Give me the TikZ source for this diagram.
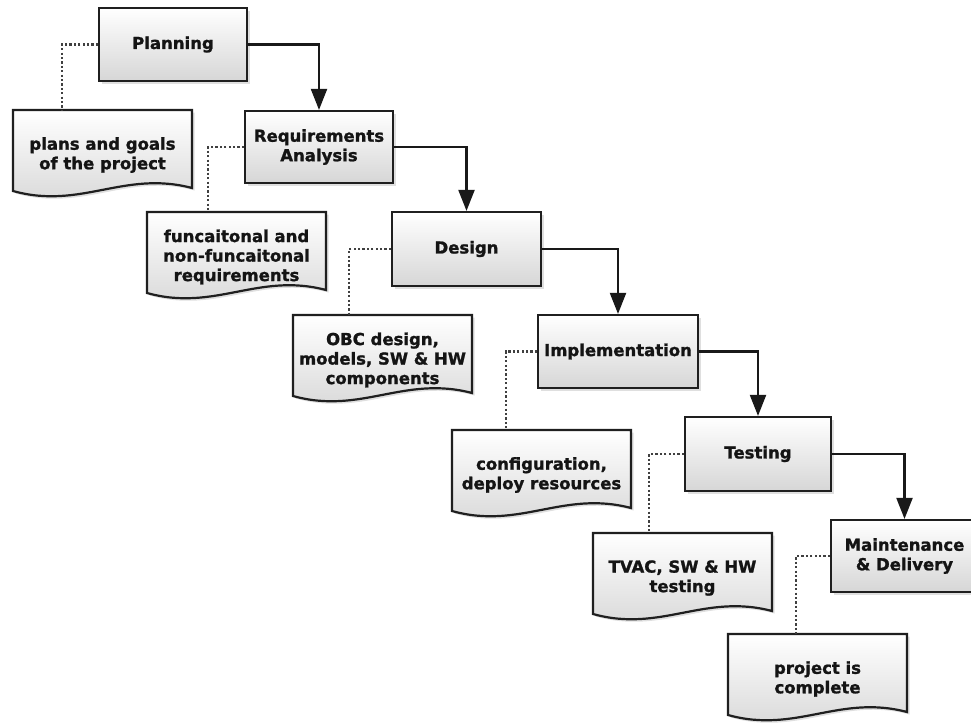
\documentclass[tikz,border=0pt]{standalone}
\usepackage{fontspec}
\setmainfont{DejaVu Sans}[BoldFeatures={FakeBold=1.3}]
\usetikzlibrary{arrows.meta,shadows}
\tikzset{
  boxfont/.style={font=\bfseries\fontsize{16.5}{19.5}\selectfont, text=black!92},
  proc/.style={draw=black!88, line width=2.2pt, top color=white, bottom color=black!16,
    drop shadow={shadow xshift=2.5pt, shadow yshift=-2.5pt, opacity=0.25},
    align=center, boxfont, inner sep=0pt},
  docfill/.style={draw=black!88, line width=2.2pt, top color=white, bottom color=black!16,
    drop shadow={shadow xshift=2.5pt, shadow yshift=-2.5pt, opacity=0.25}},
  doctext/.style={align=center, boxfont, inner sep=0pt},
  flow/.style={line width=2.1pt, draw=black!90, -{Triangle[length=21pt,width=16pt]}},
  note/.style={line width=2.1pt, draw=black!75, dash pattern=on 2.2pt off 2.2pt},
}
\newcommand\mydoc[4]{%
  \path[docfill] (#2,#3) -- (#2+179,#3) -- (#2+179,#3+78)
     .. controls (#2+111,#3+60) and (#2+68,#3+100) .. (#2,#3+81) -- cycle;
  \node[doctext] (#1) at (#2+89.5,#3+45) {#4};
  \coordinate (#1nw) at (#2,#3);
}
\begin{document}
\begin{tikzpicture}[x=1pt,y=-1pt]
\useasboundingbox (0,0) rectangle (971,723);
\clip (0,0) rectangle (971,723);

% process boxes
\node[proc, minimum width=148pt, minimum height=73pt] (plan) at (173,44.5) {Planning};
\node[proc, minimum width=148pt, minimum height=72pt] (req) at (319,147) {Requirements\\Analysis};
\node[proc, minimum width=149pt, minimum height=74pt] (des) at (466.5,249) {Design};
\node[proc, minimum width=160pt, minimum height=73pt] (imp) at (618,351.5) {Implementation};
\node[proc, minimum width=146pt, minimum height=74pt] (tst) at (758,454) {Testing};
\node[proc, minimum width=147pt, minimum height=72pt] (mnt) at (904.5,556) {Maintenance\\\& Delivery};

% documents
\mydoc{d1}{13}{110}{plans and goals\\of the project}
\mydoc{d2}{147}{212}{funcaitonal and\\non-funcaitonal\\requirements}
\mydoc{d3}{293}{315}{OBC design,\\models, SW \& HW\\components}
\mydoc{d4}{452}{430}{configuration,\\deploy resources}
\mydoc{d5}{593}{533}{TVAC, SW \& HW\\testing}
\mydoc{d6}{728}{634}{project is\\complete}

% flow arrows
\draw[flow] (plan.east) -| (req.north);
\draw[flow] (req.east) -| (des.north);
\draw[flow] (des.east) -| (imp.north);
\draw[flow] (imp.east) -| (tst.north);
\draw[flow] (tst.east) -| (mnt.north);

% dotted notes
\draw[note] (plan.west) -| ([xshift=49pt]d1nw);
\draw[note] (req.west) -| ([xshift=61pt]d2nw);
\draw[note] (des.west) -| ([xshift=56pt]d3nw);
\draw[note] (imp.west) -| ([xshift=54pt]d4nw);
\draw[note] (tst.west) -| ([xshift=56pt]d5nw);
\draw[note] (mnt.west) -| ([xshift=68pt]d6nw);
\end{tikzpicture}
\end{document}
